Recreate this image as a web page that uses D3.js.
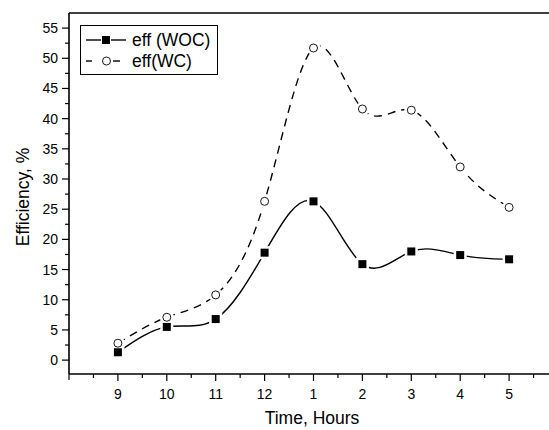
<!DOCTYPE html>
<html><head><meta charset="utf-8">
<script src="https://cdn.jsdelivr.net/npm/d3@7"></script>
<style>body{margin:0;background:#fff}svg{display:block}text{font-family:"Liberation Sans",Arial,sans-serif}</style>
</head><body>
<svg id="c" width="549" height="430"></svg>
<script>
const hours = ["9","10","11","12","1","2","3","4","5"];
const effWOC = [1.3, 5.5, 6.8, 17.8, 26.3, 15.9, 18.0, 17.4, 16.7];
const effWC = [2.8, 7.1, 10.8, 26.3, 51.7, 41.6, 41.4, 32.0, 25.3];
const yTicks = [0,5,10,15,20,25,30,35,40,45,50,55];
const seriesNames = ["eff (WOC)", "eff(WC)"];

const svg = d3.select("#c");
const L = 69, R = 558, T = 13, B = 374;
const x = d3.scaleLinear().domain([-1, 9]).range([L, R]);
const y = d3.scaleLinear().domain([-2.3, 57.5]).range([B, T]);

// frame top line
svg.append("line").attr("x1", L).attr("x2", 549).attr("y1", T).attr("y2", T).attr("stroke", "#000").attr("stroke-width", 1.6);

// x axis
const xMajor = d3.range(0, 10);
const xMinor = d3.range(-0.5, 9.5, 1);
const gx = svg.append("g").attr("transform", `translate(0,${B})`);
gx.append("line").attr("x1", L).attr("x2", 549).attr("stroke", "#000").attr("stroke-width", 1.6);
gx.selectAll(".mj").data(xMajor).join("line").attr("x1", d => x(d)).attr("x2", d => x(d)).attr("y1", 0).attr("y2", 7).attr("stroke", "#000").attr("stroke-width", 1.2);
gx.selectAll(".mn").data(xMinor).join("line").attr("x1", d => x(d)).attr("x2", d => x(d)).attr("y1", 0).attr("y2", 4).attr("stroke", "#000").attr("stroke-width", 1.2);
gx.selectAll(".lb").data(hours).join("text").attr("x", (d, i) => x(i)).attr("y", 25).attr("text-anchor", "middle").attr("font-size", 14).text(d => d);
svg.append("line").attr("x1", L).attr("x2", L).attr("y1", B + 6).attr("y2", B).attr("stroke", "#000").attr("stroke-width", 1.2);

// y axis
const gy = svg.append("g");
gy.append("line").attr("x1", L).attr("x2", L).attr("y1", T).attr("y2", B).attr("stroke", "#000").attr("stroke-width", 1.6);
gy.selectAll(".mj").data(yTicks).join("line").attr("x1", L - 7).attr("x2", L).attr("y1", d => y(d)).attr("y2", d => y(d)).attr("stroke", "#000").attr("stroke-width", 1.2);
const yMinor = d3.range(-2.5, 57.5, 5).filter(v => y(v) <= B && y(v) >= T);
gy.selectAll(".mn").data(yMinor).join("line").attr("x1", L - 4).attr("x2", L).attr("y1", d => y(d)).attr("y2", d => y(d)).attr("stroke", "#000").attr("stroke-width", 1.2);
gy.selectAll(".lb").data(yTicks).join("text").attr("x", L - 11).attr("y", d => y(d) + 5).attr("text-anchor", "end").attr("font-size", 14).text(d => d);

// titles
svg.append("text").attr("x", 312).attr("y", 424).attr("text-anchor", "middle").attr("font-size", 17.5).text("Time, Hours");
svg.append("text").attr("transform", "translate(29,197) rotate(-90)").attr("text-anchor", "middle").attr("font-size", 17.5).text("Efficiency, %");

// lines
const line = d3.line().x((d, i) => x(i)).y(d => y(d)).curve(d3.curveNatural);
svg.append("path").datum(effWC).attr("d", line).attr("fill", "none").attr("stroke", "#000").attr("stroke-width", 1.4).attr("stroke-dasharray", "8,6");
svg.append("path").datum(effWOC).attr("d", line).attr("fill", "none").attr("stroke", "#000").attr("stroke-width", 1.4);

// halos + markers
svg.selectAll(".hc").data(effWC).join("circle").attr("cx", (d, i) => x(i)).attr("cy", d => y(d)).attr("r", 7).attr("fill", "#fff");
svg.selectAll(".hs").data(effWOC).join("rect").attr("x", (d, i) => x(i) - 6.5).attr("y", d => y(d) - 6.5).attr("width", 13).attr("height", 13).attr("fill", "#fff");
svg.selectAll(".mc").data(effWC).join("circle").attr("cx", (d, i) => x(i)).attr("cy", d => y(d)).attr("r", 4).attr("fill", "#fff").attr("stroke", "#000").attr("stroke-width", 0.9);
svg.selectAll(".ms").data(effWOC).join("rect").attr("x", (d, i) => x(i) - 4).attr("y", d => y(d) - 4).attr("width", 8).attr("height", 8).attr("fill", "#000");

// legend
const lg = svg.append("g");
lg.append("rect").attr("x", 80.5).attr("y", 25.5).attr("width", 137).attr("height", 49).attr("fill", "#fff").attr("stroke", "#000").attr("stroke-width", 1);
lg.append("line").attr("x1", 86).attr("x2", 101).attr("y1", 40).attr("y2", 40).attr("stroke", "#000").attr("stroke-width", 1.4);
lg.append("line").attr("x1", 111).attr("x2", 126).attr("y1", 40).attr("y2", 40).attr("stroke", "#000").attr("stroke-width", 1.4);
lg.append("rect").attr("x", 102).attr("y", 36).attr("width", 8).attr("height", 8).attr("fill", "#000");
lg.append("line").attr("x1", 86).attr("x2", 92).attr("y1", 61).attr("y2", 61).attr("stroke", "#000").attr("stroke-width", 1.4);
lg.append("line").attr("x1", 113).attr("x2", 120).attr("y1", 61).attr("y2", 61).attr("stroke", "#000").attr("stroke-width", 1.4);
lg.append("circle").attr("cx", 106.5).attr("cy", 61).attr("r", 4).attr("fill", "#fff").attr("stroke", "#000").attr("stroke-width", 0.9);
lg.selectAll(".lt").data(seriesNames).join("text").attr("x", 132).attr("y", (d, i) => 46 + i * 21).attr("font-size", 17.5).text(d => d);
</script>
</body></html>
